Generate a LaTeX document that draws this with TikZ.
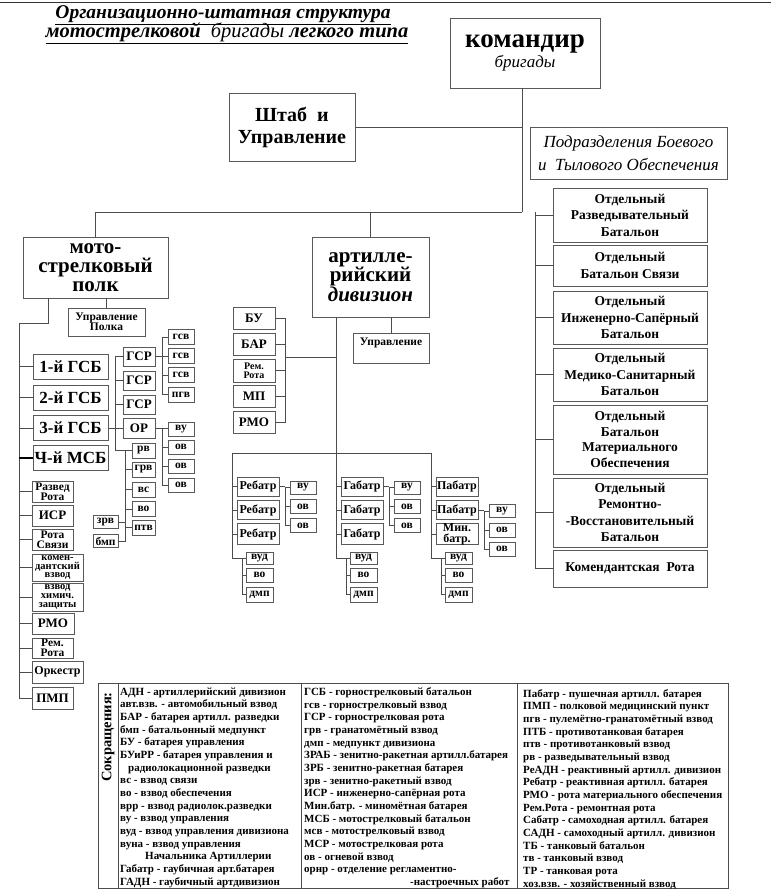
\documentclass[tikz,border=0pt]{standalone}
\usepackage{fontspec}
\setmainfont{Liberation Serif}

\tikzset{
  box/.style={draw=black!65, line width=0.7pt, inner sep=0pt, outer sep=0pt, align=center},
  wh/.style 2 args={minimum width=#1pt, minimum height=#2pt},
  con/.style={draw=black!70, line width=0.6pt},
  fbig/.style={font=\bfseries\fontsize{21}{19}\selectfont},
  fmid/.style={font=\bfseries\fontsize{17}{20}\selectfont},
  fsm/.style={font=\bfseries\fontsize{13}{14}\selectfont},
  fbat/.style={font=\bfseries\fontsize{12}{11}\selectfont},
  fxs/.style={font=\bfseries\fontsize{11.5}{10}\selectfont},
  ftiny/.style={font=\bfseries\fontsize{10.5}{8.8}\selectfont},
  fside/.style={font=\bfseries\fontsize{13.5}{16.5}\selectfont},
  flegend/.style={font=\bfseries\fontsize{11}{12.67}\selectfont},
}

\begin{document}
\begin{tikzpicture}[x=1pt, y=-1pt]
  \useasboundingbox (0,0) rectangle (771,895);
  % top rule
  \draw[black!80, line width=0.8pt] (0,2) -- (771,2);
  % heading
  \node (title1) at (223,15) {\fontsize{19.5}{22}\selectfont\bfseries\itshape\underline{Организационно-штатная структура}};
  \node (title2) at (227,33) {\fontsize{20.5}{22}\selectfont\itshape\underline{\bfseries мотострелковой\ \ {\mdseries бригады} легкого типа}};

  % brigade commander, staff, support
  \node[box, wh={150}{70}] (kombrig) at (525,53)
    {{\bfseries\fontsize{27}{26}\selectfont командир}\\[1pt]{\itshape\fontsize{17}{18}\selectfont бригады}};
  \node[box, wh={126}{68}, font=\bfseries\fontsize{20}{22}\selectfont] (shtab) at (292,127) {Штаб\ \ и\\Управление};
  \node[box, wh={197}{52}, font=\itshape\fontsize{17}{23}\selectfont] (podr) at (628.5,153)
    {Подразделения Боевого\\и\ \ Тылового Обеспечения};
  \coordinate (hub) at (522,212);
  \draw[con] (kombrig.south -| hub) -- (hub);
  \draw[con] (shtab.east) -- (shtab.east -| hub);

  % separate battalions on the right
  \node[box, wh={154}{54}, fside] (razv) at (630,215) {Отдельный\\Разведывательный\\Батальон};
  \node[box, wh={154}{41}, fside] (svyaz) at (630,265.5) {Отдельный\\Батальон Связи};
  \node[box, wh={154}{53}, fside] (isb) at (630,317.5) {Отдельный\\Инженерно-Сапёрный\\Батальон};
  \node[box, wh={154}{53}, fside] (medb) at (630,374.5) {Отдельный\\Медико-Санитарный\\Батальон};
  \node[box, wh={154}{69}, font=\bfseries\fontsize{13.5}{15.5}\selectfont] (bmo) at (630,439.5)
    {Отдельный\\Батальон\\Материального\\Обеспечения};
  \node[box, wh={154}{69}, fside] (rvb) at (630,512.5) {Отдельный\\Ремонтно-\\-Восстановительный\\Батальон};
  \node[box, wh={154}{37}, fside] (komr) at (630,568.5) {Комендантская\ \ Рота};
  \coordinate (rtop) at (535,212);
  \draw[con] (rtop) |- (komr.west);
  \foreach \n in {razv,svyaz,isb,medb,bmo,rvb}
  {
    \draw[con] (\n.west) -- (\n.west -| rtop);
  }

  % motor rifle regiment
  \node[box, wh={145}{61}, fbig] (msp) at (95.5,267.5) {мото-\\стрелковый\\полк};
  \draw[con] (hub) -| (msp.north);
  \node[box, wh={77}{28}, fxs] (uprp) at (106.5,322) {Управление\\Полка};
  \draw[con] (uprp.north) -- (uprp.north |- msp.south);
  \foreach \n/\y/\t in {gsb1/366.5/1-й ГСБ, gsb2/397.5/2-й ГСБ, gsb3/428/3-й ГСБ, msb4/458/Ч-й МСБ}
  {
    \node[box, wh={75}{25}, fmid] (\n) at (70.5,\y) {\t};
  }
  \node[box, wh={41}{21}, fxs] (razvr) at (52.5,491.5) {Развед\\Рота};
  \node[box, wh={41}{21}, fsm] (isr) at (52.5,515.5) {ИСР};
  \node[box, wh={41}{21}, fxs] (rsv) at (52.5,539.5) {Рота\\Связи};
  \node[box, wh={51}{27}, ftiny] (komv) at (57.5,567.5) {комен-\\дантский\\взвод};
  \node[box, wh={51}{28}, ftiny] (hzv) at (57.5,597) {взвод\\химич.\\защиты};
  \node[box, wh={42}{21}, fsm] (rmop) at (53,623.5) {РМО};
  \node[box, wh={41}{20}, fxs] (remr) at (52.5,648) {Рем.\\Рота};
  \node[box, wh={51}{22}, font=\bfseries\fontsize{12}{12}\selectfont] (ork) at (57.5,672) {Оркестр};
  \node[box, wh={41}{22}, fsm] (pmp) at (52.5,698) {ПМП};
  % left trunk of the regiment
  \coordinate (lm) at (48,323);
  \coordinate (lt) at (19,323);
  \draw[con] (lm |- msp.south) -- (lm) -- (lt) |- (pmp.west);
  \foreach \n in {gsb1,gsb2,gsb3,razvr,isr,rsv,komv,hzv,rmop,remr,ork}
  {
    \draw[con] (\n.west) -- (\n.west -| lt);
  }
  \draw[line width=1.4pt] (msb4.west) -- (msb4.west -| lt);

  % companies of a battalion
  \foreach \i/\y in {1/356.5,2/380.5,3/404.5}
  {
    \node[box, wh={32}{19}, fsm] (gsr\i) at (139,\y) {ГСР};
  }
  \node[box, wh={32}{20}, fsm] (orr) at (139,428) {ОР};
  \foreach \n/\y/\t in {rv/450.5/рв, grv/469.5/грв, vs/489.5/вс, vo/509/во, ptv/527.5/птв}
  {
    \node[box, wh={23}{15}, fxs] (\n) at (143.5,\y) {\t};
  }
  \node[box, wh={25}{13}, fxs] (zrv) at (105.5,522) {зрв};
  \node[box, wh={25}{13}, fxs] (bmp) at (105.5,541) {бмп};
  \foreach \i/\y/\t in {1/337/гсв,2/356/гсв,3/375/гсв,4/394.5/пгв}
  {
    \node[box, wh={26}{15}, fxs] (gsv\i) at (181,\y) {\t};
  }
  \foreach \i/\y/\t in {1/429/ву,2/447/ов,3/466/ов,4/485/ов}
  {
    \node[box, wh={26}{14}, fxs] (orv\i) at (181,\y) {\t};
  }
  \coordinate (gb) at (115,356.5);
  \draw[con] (gsr1.west) -- (gb) |- (rv.west);
  \draw[con] (gsr2.west) -- (gsr2.west -| gb);
  \draw[con] (gsr3.west) -- (gsr3.west -| gb);
  \draw[con] (gsb3.east) -- (orr.west);
  \coordinate (rb) at (125,450.5);
  \draw[con] (rb) |- (bmp.east);
  \draw[con] (zrv.east) -- (zrv.east -| rb);
  \foreach \n in {grv,vs,vo,ptv}
  {
    \draw[con] (\n.west) -- (\n.west -| rb);
  }
  \coordinate (sb) at (162,337);
  \draw[con] (gsr1.east) -- (gsr1.east -| sb);
  \draw[con] (sb) |- (gsv4.west);
  \coordinate (ob) at (162,429);
  \draw[con] (orr.east) -- (orr.east -| orv1.west);
  \draw[con] (ob) |- (orv4.west);
  \foreach \i in {1,2,3}
  {
    \draw[con] (gsv\i.west) -- (gsv\i.west -| sb);
  }
  \foreach \i in {2,3}
  {
    \draw[con] (orv\i.west) -- (orv\i.west -| ob);
  }

  % artillery battalion
  \node[box, wh={117}{80}, fbig] (ad) at (370.5,277) {артилле-\\рийский\\{\itshape дивизион}};
  \draw[con] (ad.north) -- (ad.north |- hub);
  \node[box, wh={76}{30}, fxs, text height=12pt, text depth=18pt] (upra) at (391,348) {Управление};
  \draw[con] (upra.north) -- (upra.north |- ad.south);
  \foreach \n/\y/\t in {bu/318/БУ, bar/344/БАР, mp/396/МП, rmoa/422.5/РМО}
  {
    \node[box, wh={42}{22}, fsm] (\n) at (254,\y) {\t};
  }
  \node[box, wh={42}{23}, font=\bfseries\fontsize{10}{9}\selectfont] (remra) at (254,370.5) {Рем.\\Рота};
  \coordinate (ab) at (285,318);
  \draw[con] (bu.east) -- (ab) |- (rmoa.east);
  \foreach \n in {bar,remra,mp}
  {
    \draw[con] (\n.east) -- (\n.east -| ab);
  }
  \coordinate (ajoin) at (336,357);
  \coordinate (bl) at (232,453);
  \coordinate (br) at (431,453);
  \draw[con] (ajoin -| ab) -- (ajoin);
  \draw[con] (ad.south -| ajoin) -- (ajoin |- bl);
  \draw[con] (bl) -- (br);
  % batteries
  \foreach \gx/\g/\na/\nb/\nc/\bk in {232/a/Ребатр/Ребатр/Ребатр/1, 336/b/Габатр/Габатр/Габатр/1, 431/c/Пабатр/Пабатр/{Мин.\\батр.}/2}
  {
    \coordinate (top\g) at (\gx,453);
    \node[box, wh={42}{19}, fbat] (bat\g1) at (\gx+26,486.5) {\na};
    \node[box, wh={42}{19}, fbat] (bat\g2) at (\gx+26,510) {\nb};
    \node[box, wh={42}{21}, fbat] (bat\g3) at (\gx+26,534) {\nc};
    \node[box, wh={27}{12}, fxs] (vud\g) at (\gx+27.5,558.5) {вуд};
    \node[box, wh={27}{14}, fxs] (vo\g) at (\gx+27.5,575) {во};
    \node[box, wh={27}{15}, fxs] (dmp\g) at (\gx+27.5,594.5) {дмп};
    \foreach \i in {1,2,3}
    {
      \draw[con] (bat\g\i.west) -- (bat\g\i.west -| top\g);
    }
    \coordinate (sub\g) at (\gx+10,558.5);
    \draw[con] (top\g) |- (sub\g) |- (dmp\g.west);
    \draw[con] (sub\g) -- (vud\g.west);
    \draw[con] (vo\g.west) -- (vo\g.west -| sub\g);
    % platoons of one battery
    \pgfmathsetmacro\yb{486.5+23.5*(\bk-1)}
    \node[box, wh={26}{13}, fxs] (vu\g) at (\gx+71,\yb+1) {ву};
    \node[box, wh={26}{14}, fxs] (ova\g) at (\gx+71,\yb+20) {ов};
    \node[box, wh={26}{14}, fxs] (ovb\g) at (\gx+71,\yb+39) {ов};
    \coordinate (vb\g) at (\gx+53,\yb+1);
    \draw[con] (bat\g\bk.east) -- (bat\g\bk.east -| vb\g);
    \draw[con] (vb\g) -- (vu\g.west);
    \draw[con] (vb\g) |- (ovb\g.west);
    \draw[con] (ova\g.west) -- (ova\g.west -| vb\g);
  }

  % abbreviations
  \node[draw=black!70, line width=0.7pt, wh={630}{205}, inner sep=0pt] (legend) at (413,785.5) {};
  \coordinate (sep1) at (118,683);
  \coordinate (sep2) at (301,683);
  \coordinate (sep3) at (517,683);
  \foreach \s in {sep1,sep2,sep3}
  {
    \draw[black!70, line width=0.6pt] (\s) -- (\s |- legend.south);
  }
  \node[rotate=90, font=\bfseries\fontsize{14.5}{16}\selectfont] (sokr) at (108,737) {Сокращения:};
  \node[anchor=north west, align=left, inner sep=0pt, flegend] (col1) at (120,687.5) {%
    АДН - артиллерийский дивизион\\
    авт.взв. - автомобильный взвод\\
    БАР - батарея артилл. разведки\\
    бмп - батальонный медпункт\\
    БУ - батарея управления\\
    БУиРР - батарея управления и\\
    \hspace*{8pt}радиолокационной разведки\\
    вс - взвод связи\\
    во - взвод обеспечения\\
    врр - взвод радиолок.разведки\\
    ву - взвод управления\\
    вуд - взвод управления дивизиона\\
    вуна - взвод управления\\
    \hspace*{25pt}Начальника Артиллерии\\
    Габатр - гаубичная арт.батарея\\
    ГАДН - гаубичный артдивизион};
  \node[anchor=north west, align=left, inner sep=0pt, flegend] (col2) at (304,687.5) {%
    ГСБ - горнострелковый батальон\\
    гсв - горнострелковый взвод\\
    ГСР - горнострелковая рота\\
    грв - гранатомётный взвод\\
    дмп - медпункт дивизиона\\
    ЗРАБ - зенитно-ракетная артилл.батарея\\
    ЗРБ - зенитно-ракетная батарея\\
    зрв - зенитно-ракетный взвод\\
    ИСР - инженерно-сапёрная рота\\
    Мин.батр. - миномётная батарея\\
    МСБ - мотострелковый батальон\\
    мсв - мотострелковый взвод\\
    МСР - мотострелковая рота\\
    ов - огневой взвод\\
    орнр - отделение регламентно-\\
    \hspace*{106pt}-настроечных работ};
  \node[anchor=north west, align=left, inner sep=0pt, flegend] (col3) at (523,689) {%
    Пабатр - пушечная артилл. батарея\\
    ПМП - полковой медицинский пункт\\
    пгв - пулемётно-гранатомётный взвод\\
    ПТБ - противотанковая батарея\\
    птв - противотанковый взвод\\
    рв - разведывательный взвод\\
    РеАДН - реактивный артилл. дивизион\\
    Ребатр - реактивная артилл. батарея\\
    РМО - рота материального обеспечения\\
    Рем.Рота - ремонтная рота\\
    Сабатр - самоходная артилл. батарея\\
    САДН - самоходный артилл. дивизион\\
    ТБ - танковый батальон\\
    тв - танковый взвод\\
    ТР - танковая рота\\
    хоз.взв. - хозяйственный взвод};
\end{tikzpicture}
\end{document}
